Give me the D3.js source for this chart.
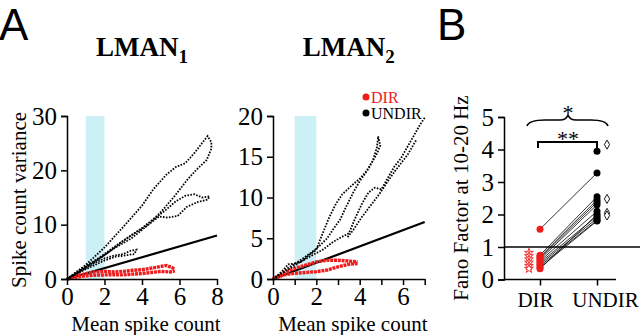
<!DOCTYPE html>
<html>
<head>
<meta charset="utf-8">
<script src="https://cdn.jsdelivr.net/npm/d3@7"></script>
<style>
  body { margin: 0; background: #fff; }
  svg { display: block; }
  .axis path, .axis line { stroke: #000; stroke-width: 1.5px; }
</style>
</head>
<body>
<svg width="640" height="335"></svg>
<script>
// ---- data: panel A, LMAN1 (mean spike count, spike count variance)
const lman1Black = [
    [[0,0],[1,2.6],[2,5.8],[3,9.6],[4,13.5],[4.6,16.5],[5.3,19.2],[5.8,20.6],[6.3,21.3],[6.8,23.2],[7.2,25.0],[7.5,26.3],[7.7,25.2],[7.7,24.0],[7.45,21.9],[6.9,20.1],[6.4,18.2],[5.7,15.1],[5.0,12.3],[4.25,9.8],[3.5,8.2],[2.8,6.6],[2,4.6],[1,2.2],[0,0]],
    [[0,0],[1,2.4],[2,4.4],[3,7.0],[4,9.4],[4.6,11.0],[5.2,12.5],[5.8,14.3],[6.3,15.3],[6.8,15.6],[7.2,15.0],[7.6,15.2],[7.5,14.6],[7.0,14.2],[6.4,13.3],[5.9,11.6],[5.4,11.3],[4.9,11.5],[4.2,9.6],[3.4,7.4],[2.5,5.6],[1.5,3.2],[0,0]],
    [[0,0],[1,2.0],[1.5,3.0],[2,3.8],[2.5,4.3],[3,4.6],[3.4,5.2],[3.7,5.4],[3.6,4.6],[3.2,4.4],[2.6,4.1],[2,3.4],[1,1.8],[0,0]]
];
const lman1Red = [
    [[0,0],[0.5,0.6],[1,1.0],[1.5,1.3],[2,1.4],[2.5,1.3],[3,1.4],[3.5,1.6],[4,1.7],[4.5,2.0],[5,2.3],[5.3,2.5],[5.6,2.1],[5.75,1.8]],
    [[0,0],[0.5,0.3],[1,0.6],[1.5,0.7],[2,0.75],[2.5,0.8],[3,0.75],[3.5,0.9],[4,1.0],[4.5,1.2],[5,1.4],[5.5,1.3],[5.75,1.5]]
];

// ---- data: panel A, LMAN2
const lman2Black = [
    [[0,0],[0.4,0.9],[0.7,1.8],[1.0,1.9],[1.3,2.1],[1.6,2.8],[2.0,3.6],[2.2,5.0],[2.4,6.3],[2.6,7.6],[2.9,9.2],[3.2,10.4],[3.6,11.4],[4.0,12.3],[4.3,13.2],[4.6,14.5],[4.8,16.2],[4.85,17.5],[4.95,16.4],[4.8,15.4],[4.4,13.5],[4.0,12.0],[3.7,10.6],[3.4,9.0],[3.1,7.3],[2.8,6.2],[2.5,5.0],[2.2,4.2],[1.8,3.3],[1.2,2.2],[0.6,1.2],[0,0]],
    [[0,0],[0.6,1.0],[1.2,2.0],[1.8,2.9],[2.3,3.6],[2.8,4.6],[3.2,5.2],[3.5,5.6],[3.8,7.5],[4.1,9.2],[4.4,10.6],[4.7,11.2],[5.0,11.0],[5.3,12.4],[5.6,13.8],[5.9,14.8],[6.2,16.2],[6.5,17.6],[6.8,19.0],[7.0,19.8]],
    [[6.6,17.0],[6.2,15.2],[5.7,13.5],[5.3,12.0],[4.9,10.4],[4.5,9.0],[4.1,7.6],[3.7,6.0],[3.4,5.0]]
];
const lman2Red = [
    [[0,0],[0.3,0.4],[0.6,0.9],[1.0,1.3],[1.5,1.7],[2.0,2.1],[2.5,2.3],[3.0,2.3],[3.5,2.2],[3.9,2.1]],
    [[0,0],[0.5,0.5],[1.0,0.7],[1.5,0.8],[2.0,0.9],[2.5,1.1],[3.0,1.5],[3.5,1.8],[3.9,1.9]]
];

// ---- data: panel B, Fano factor at 10-20 Hz
const groups = ['DIR', 'UNDIR'];
const pairedDir   = [1.55, 0.75, 0.70, 0.66, 0.62, 0.57, 0.52, 0.47, 0.42, 0.37, 0.33];
const pairedUndir = [3.28, 2.55, 2.45, 2.38, 2.30, 2.10, 1.95, 1.88, 1.82, 1.80, 2.00];
const extraUndir  = [3.95];
const starsDir    = [0.82, 0.72, 0.62, 0.52, 0.42, 0.33];
const diamondsUndir = [4.15, 2.48, 2.05, 1.97];

const svg = d3.select('svg');
const serif = '"Liberation Serif", "Times New Roman", serif';
const sans = '"Liberation Sans", Arial, sans-serif';
const red = '#ee1c1c';

function styleAxis(g, size) {
    g.attr('font-family', serif).attr('font-size', size);
    g.selectAll('text').style('font-family', serif).style('font-size', size + 'px').attr('fill', '#000');
}

// panel letters
svg.append('text').attr('x', -1).attr('y', 40).text('A')
    .style('font-family', sans).style('font-size', '44px');
svg.append('text').attr('x', 437).attr('y', 40).text('B')
    .style('font-family', sans).style('font-size', '44px');

function varPanel(opts) {
    const x = d3.scaleLinear().domain([0, opts.xMax]).range(opts.xRange);
    const y = d3.scaleLinear().domain([0, opts.yMax]).range([279, 116]);
    const g = svg.append('g');

    // highlighted 1-2 window
    g.append('rect')
        .attr('x', x(1)).attr('width', x(2) - x(1))
        .attr('y', y(opts.yMax)).attr('height', y(0) - y(opts.yMax))
        .attr('fill', '#cdeff6');

    const line = d3.line().x(d => x(d[0])).y(d => y(d[1]));

    // unity line
    g.append('path')
        .attr('d', line([[0, 0], [opts.xMax, opts.xMax]]))
        .attr('stroke', '#000').attr('stroke-width', 2.2).attr('fill', 'none');

    g.selectAll('.red').data(opts.red).join('path')
        .attr('d', line)
        .attr('fill', 'none').attr('stroke', red)
        .attr('stroke-width', 3.4).attr('stroke-dasharray', '3 0.8');

    g.selectAll('.blk').data(opts.black).join('path')
        .attr('d', line)
        .attr('fill', 'none').attr('stroke', '#000')
        .attr('stroke-width', 1.8).attr('stroke-dasharray', '1.6 1.4');

    const ax = g.append('g').attr('class', 'axis')
        .attr('transform', 'translate(0,279)')
        .call(d3.axisBottom(x).tickValues(opts.xTicks).tickSize(6).tickSizeOuter(0)
            .tickFormat(d => opts.xLabels.includes(d) ? d : ''));
    ax.selectAll('text').attr('y', 8).attr('dy', '0.72em');
    styleAxis(ax, 25);

    const ay = g.append('g').attr('class', 'axis')
        .attr('transform', `translate(${opts.xRange[0]},0)`)
        .call(d3.axisLeft(y).tickValues(opts.yTicks).tickSize(6).tickSizeOuter(6));
    ay.selectAll('text').attr('dx', '-1px');
    styleAxis(ay, 25);

    const cx = (opts.xRange[0] + opts.xRange[1]) / 2;
    const title = g.append('text').attr('x', cx).attr('y', 56)
        .attr('text-anchor', 'middle')
        .style('font-family', serif).style('font-size', '27px').style('font-weight', 'bold');
    title.append('tspan').text('LMAN');
    title.append('tspan').attr('dy', 7).style('font-size', '19px').text(opts.sub);

    g.append('text').attr('x', cx + 4).attr('y', 331)
        .attr('text-anchor', 'middle')
        .style('font-family', serif).style('font-size', '21px')
        .text('Mean spike count');
    return { x, y };
}

varPanel({ xMax: 8, yMax: 30, xRange: [67, 217], xTicks: [0, 2, 4, 6, 8], xLabels: [0, 2, 4, 6, 8],
    yTicks: [0, 10, 20, 30], black: lman1Black, red: lman1Red, sub: '1' });
varPanel({ xMax: 7, yMax: 20, xRange: [273, 424.7], xTicks: d3.range(0, 8), xLabels: [0, 2, 4, 6],
    yTicks: [0, 5, 10, 15, 20], black: lman2Black, red: lman2Red, sub: '2' });

svg.append('text')
    .attr('transform', 'translate(26,200) rotate(-90)')
    .attr('text-anchor', 'middle')
    .style('font-family', serif).style('font-size', '21px')
    .text('Spike count variance');

// legend
const legend = svg.append('g').style('font-family', serif).style('font-size', '16px');
[['DIR', red, 103], ['UNDIR', '#000', 119]].forEach(([lab, col, yy]) => {
    legend.append('circle').attr('cx', 366).attr('cy', yy - 6).attr('r', 3.5).attr('fill', col);
    legend.append('text').attr('x', 371).attr('y', yy).attr('fill', col).text(lab);
});

// ---- panel B
const yB = d3.scaleLinear().domain([0, 5]).range([279.5, 117]);
const xB = d3.scalePoint().domain(groups).range([540, 597]);
const gB = svg.append('g');

gB.append('line').attr('x1', 504).attr('x2', 640).attr('y1', yB(1)).attr('y2', yB(1))
    .attr('stroke', '#000').attr('stroke-width', 1.5);

const axB = gB.append('g').attr('class', 'axis')
    .attr('transform', 'translate(0,279.5)')
    .call(d3.axisBottom(xB).tickSize(6).tickSizeOuter(0));
axB.select('.domain').attr('d', 'M504,0H616');
axB.selectAll('text').attr('y', 12).attr('dy', '0.72em');
styleAxis(axB, 21);
axB.selectAll('.tick').filter(d => d === 'DIR').select('text').attr('dx', '-5px');
axB.selectAll('.tick').filter(d => d === 'UNDIR').select('text').attr('dx', '8px');

const ayB = gB.append('g').attr('class', 'axis')
    .attr('transform', 'translate(504,0)')
    .call(d3.axisLeft(yB).ticks(5).tickSize(6).tickSizeOuter(6));
ayB.selectAll('text').attr('dx', '-1px');
styleAxis(ayB, 25);

gB.selectAll('.pair').data(pairedDir).join('line')
    .attr('x1', xB('DIR')).attr('y1', d => yB(d))
    .attr('x2', xB('UNDIR')).attr('y2', (d, i) => yB(pairedUndir[i]))
    .attr('stroke', '#000').attr('stroke-width', 0.8);

gB.selectAll('.dd').data(pairedDir).join('circle')
    .attr('cx', xB('DIR')).attr('cy', d => yB(d)).attr('r', 3.5).attr('fill', red);
gB.selectAll('.ud').data(pairedUndir.concat(extraUndir)).join('circle')
    .attr('cx', xB('UNDIR')).attr('cy', d => yB(d)).attr('r', 3.5).attr('fill', '#000');

const star = d3.symbol().type(d3.symbolStar).size(24);
gB.selectAll('.st').data(starsDir).join('path')
    .attr('d', star)
    .attr('transform', d => `translate(${xB('DIR') - 11},${yB(d)})`)
    .attr('fill', '#fff').attr('stroke', red).attr('stroke-width', 0.9);

const diamond = d3.symbol().type(d3.symbolDiamond).size(24);
gB.selectAll('.dm').data(diamondsUndir).join('path')
    .attr('d', diamond)
    .attr('transform', d => `translate(${xB('UNDIR') + 10},${yB(d)})`)
    .attr('fill', '#fff').attr('stroke', '#000').attr('stroke-width', 0.9);

// significance: bracket ** and brace *
gB.append('path')
    .attr('d', `M${xB('DIR') - 2},148V142H${xB('UNDIR')}V148`)
    .attr('fill', 'none').attr('stroke', '#000').attr('stroke-width', 2);
gB.append('text').attr('x', 568).attr('y', 146).attr('text-anchor', 'middle')
    .style('font-family', serif).style('font-size', '22px').text('**');

gB.append('path')
    .attr('d', 'M527,126 Q529,120 545,120 L560,120 Q566,120 568,115 Q570,120 576,120 L591,120 Q606,120 608,126')
    .attr('fill', 'none').attr('stroke', '#000').attr('stroke-width', 1.6);
gB.append('text').attr('x', 568).attr('y', 120).attr('text-anchor', 'middle')
    .style('font-family', serif).style('font-size', '22px').text('*');

svg.append('text')
    .attr('transform', 'translate(468,198) rotate(-90)')
    .attr('text-anchor', 'middle')
    .style('font-family', serif).style('font-size', '21px')
    .text('Fano Factor at 10-20 Hz');
</script>
</body>
</html>
